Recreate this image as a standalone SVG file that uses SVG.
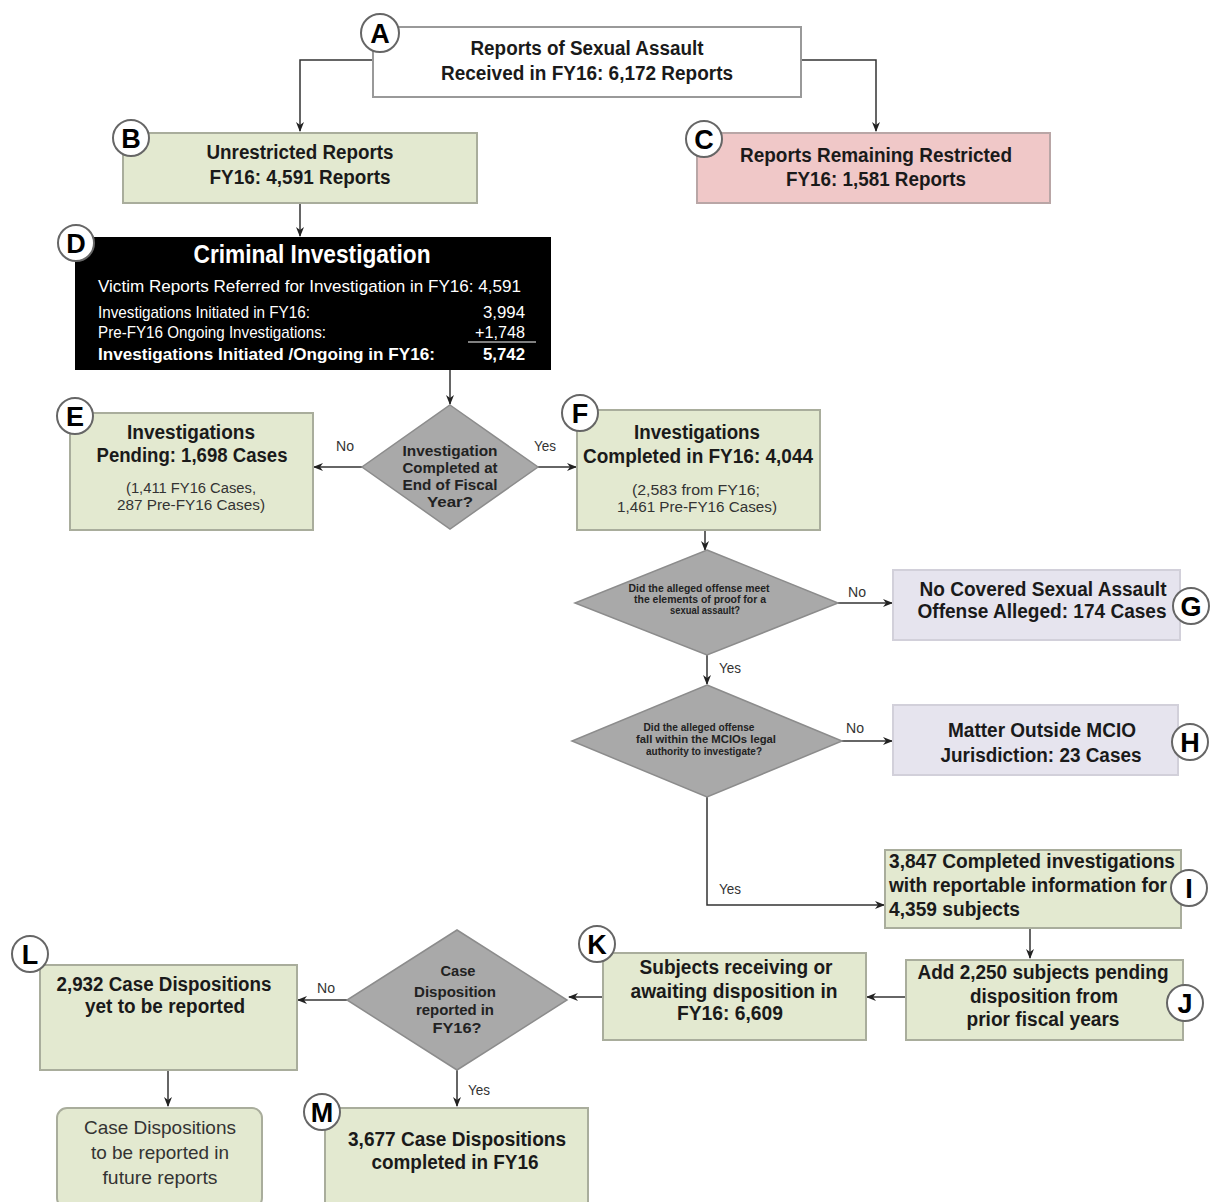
<svg xmlns="http://www.w3.org/2000/svg" width="1212" height="1202" viewBox="0 0 1212 1202">
<defs>
<marker id="ah" markerWidth="10" markerHeight="10" refX="9" refY="5" orient="auto" markerUnits="userSpaceOnUse">
<path d="M0,1 L10,5 L0,9 L3,5 Z" fill="#222"/>
</marker>
</defs>
<style>
text{font-family:"Liberation Sans Narrow","Liberation Sans",Arial,sans-serif;fill:#1a1a1a;text-anchor:middle}
.b{font-weight:bold;font-size:20px}
.s{font-size:14px;fill:#333}
.g{fill:#e3e9d0;stroke:#a9ad9c;stroke-width:2}
.p{fill:#f0c8c8;stroke:#b9a6a6;stroke-width:2}
.v{fill:#e6e4ee;stroke:#d2d0da;stroke-width:2}
.w{fill:#fff;stroke:#999;stroke-width:2}
.d{fill:#a9a9a9;stroke:#8c8c8c;stroke-width:1.5}
.c{fill:#fff;stroke:#666;stroke-width:2}
.l{font-weight:bold;font-size:27px;fill:#000}
.q{font-weight:bold;font-size:15px;fill:#222}
.t{font-weight:bold;font-size:10px;fill:#222}
.y{font-size:14px;fill:#333}
.k text{fill:#fff;text-anchor:start}
.cn{fill:none;stroke:#333;stroke-width:1.5;marker-end:url(#ah)}
</style>
<rect width="1212" height="1202" fill="#fff"/>

<g id="connectors">
<path class="cn" d="M373,60 H300 V131"/>
<path class="cn" d="M801,60 H876 V131"/>
<path class="cn" d="M300,203 V236"/>
<path class="cn" d="M450,370 V404"/>
<path class="cn" d="M362,467 H314"/>
<path class="cn" d="M538,467 H576"/>
<path class="cn" d="M705,530 V550"/>
<path class="cn" d="M838,603 H892"/>
<path class="cn" d="M707,655 V684"/>
<path class="cn" d="M842,741 H892"/>
<path class="cn" d="M707,797 V905 H884"/>
<path class="cn" d="M1030,928 V958"/>
<path class="cn" d="M906,997 H867"/>
<path class="cn" d="M603,997 H569"/>
<path class="cn" d="M347,1000 H298"/>
<path class="cn" d="M168,1070 V1106"/>
<path class="cn" d="M457,1070 V1106"/>
<text class="y" x="345" y="451" textLength="18" lengthAdjust="spacingAndGlyphs">No</text>
<text class="y" x="545" y="451" textLength="22" lengthAdjust="spacingAndGlyphs">Yes</text>
<text class="y" x="857" y="597" textLength="18" lengthAdjust="spacingAndGlyphs">No</text>
<text class="y" x="730" y="673" textLength="22" lengthAdjust="spacingAndGlyphs">Yes</text>
<text class="y" x="855" y="733" textLength="18" lengthAdjust="spacingAndGlyphs">No</text>
<text class="y" x="730" y="894" textLength="22" lengthAdjust="spacingAndGlyphs">Yes</text>
<text class="y" x="326" y="993" textLength="18" lengthAdjust="spacingAndGlyphs">No</text>
<text class="y" x="479" y="1095" textLength="22" lengthAdjust="spacingAndGlyphs">Yes</text>
</g>

<g id="A">
<rect class="w" x="373" y="27" width="428" height="70"/>
<text class="b" x="587" y="55" textLength="233" lengthAdjust="spacingAndGlyphs">Reports of Sexual Assault</text>
<text class="b" x="587" y="80" textLength="292" lengthAdjust="spacingAndGlyphs">Received in FY16: 6,172 Reports</text>
<circle class="c" cx="380" cy="33" r="19"/>
<text class="l" x="380" y="43">A</text>
</g>

<g id="B">
<rect class="g" x="123" y="133" width="354" height="70"/>
<text class="b" x="300" y="159" textLength="187" lengthAdjust="spacingAndGlyphs">Unrestricted Reports</text>
<text class="b" x="300" y="184" textLength="181" lengthAdjust="spacingAndGlyphs">FY16: 4,591 Reports</text>
<circle class="c" cx="131" cy="138" r="18"/>
<text class="l" x="131" y="148">B</text>
</g>

<g id="C">
<rect class="p" x="697" y="133" width="353" height="70"/>
<text class="b" x="876" y="162" textLength="272" lengthAdjust="spacingAndGlyphs">Reports Remaining Restricted</text>
<text class="b" x="876" y="186" textLength="180" lengthAdjust="spacingAndGlyphs">FY16: 1,581 Reports</text>
<circle class="c" cx="704" cy="139" r="18"/>
<text class="l" x="704" y="149">C</text>
</g>

<g id="D" class="k">
<rect x="75" y="237" width="476" height="133" fill="#000"/>
<text x="312" y="263" style="text-anchor:middle;font-weight:bold;font-size:26px" textLength="237" lengthAdjust="spacingAndGlyphs">Criminal Investigation</text>
<text x="98" y="292" style="font-size:17px" textLength="423" lengthAdjust="spacingAndGlyphs">Victim Reports Referred for Investigation in FY16: 4,591</text>
<text x="98" y="318" style="font-size:17px" textLength="212" lengthAdjust="spacingAndGlyphs">Investigations Initiated in FY16:</text>
<text x="525" y="318" style="font-size:17px;text-anchor:end" textLength="42" lengthAdjust="spacingAndGlyphs">3,994</text>
<text x="98" y="338" style="font-size:17px" textLength="228" lengthAdjust="spacingAndGlyphs">Pre-FY16 Ongoing Investigations:</text>
<text x="525" y="338" style="font-size:17px;text-anchor:end" textLength="50" lengthAdjust="spacingAndGlyphs">+1,748</text>
<line x1="468" y1="342" x2="536" y2="342" stroke="#fff" stroke-width="1.2"/>
<text x="98" y="360" style="font-size:17px;font-weight:bold" textLength="337" lengthAdjust="spacingAndGlyphs">Investigations Initiated /Ongoing in FY16:</text>
<text x="525" y="360" style="font-size:17px;font-weight:bold;text-anchor:end" textLength="42" lengthAdjust="spacingAndGlyphs">5,742</text>
<circle class="c" cx="76" cy="243" r="18" style="fill:#fff"/>
<text x="76" y="253" style="text-anchor:middle;font-weight:bold;font-size:27px;fill:#000">D</text>
</g>

<g id="Q1">
<polygon class="d" points="450,405 538,467 450,529 362,467"/>
<text class="q" x="450" y="456" textLength="95" lengthAdjust="spacingAndGlyphs">Investigation</text>
<text class="q" x="450" y="473" textLength="95" lengthAdjust="spacingAndGlyphs">Completed at</text>
<text class="q" x="450" y="490" textLength="95" lengthAdjust="spacingAndGlyphs">End of Fiscal</text>
<text class="q" x="450" y="507" textLength="46" lengthAdjust="spacingAndGlyphs">Year?</text>
</g>

<g id="E">
<rect class="g" x="70" y="413" width="243" height="117"/>
<text class="b" x="191" y="439" textLength="128" lengthAdjust="spacingAndGlyphs">Investigations</text>
<text class="b" x="192" y="462" textLength="191" lengthAdjust="spacingAndGlyphs">Pending: 1,698 Cases</text>
<text class="s" x="191" y="493" textLength="130" lengthAdjust="spacingAndGlyphs">(1,411 FY16 Cases,</text>
<text class="s" x="191" y="510" textLength="148" lengthAdjust="spacingAndGlyphs">287 Pre-FY16 Cases)</text>
<circle class="c" cx="75" cy="416" r="18"/>
<text class="l" x="75" y="426">E</text>
</g>

<g id="F">
<rect class="g" x="577" y="410" width="243" height="120"/>
<text class="b" x="697" y="439" textLength="126" lengthAdjust="spacingAndGlyphs">Investigations</text>
<text class="b" x="698" y="463" textLength="230" lengthAdjust="spacingAndGlyphs">Completed in FY16: 4,044</text>
<text class="s" x="696" y="495" textLength="128" lengthAdjust="spacingAndGlyphs">(2,583 from FY16;</text>
<text class="s" x="697" y="512" textLength="160" lengthAdjust="spacingAndGlyphs">1,461 Pre-FY16 Cases)</text>
<circle class="c" cx="580" cy="413" r="18"/>
<text class="l" x="580" y="423">F</text>
</g>

<g id="Q2">
<polygon class="d" points="707,550 838,603 707,655 575,603"/>
<text class="t" x="699" y="592" textLength="141" lengthAdjust="spacingAndGlyphs">Did the alleged offense meet</text>
<text class="t" x="700" y="603" textLength="132" lengthAdjust="spacingAndGlyphs">the elements of proof for a</text>
<text class="t" x="705" y="614" textLength="70" lengthAdjust="spacingAndGlyphs">sexual assault?</text>
</g>

<g id="G">
<rect class="v" x="893" y="570" width="287" height="70"/>
<text class="b" x="1043" y="596" textLength="247" lengthAdjust="spacingAndGlyphs">No Covered Sexual Assault</text>
<text class="b" x="1042" y="618" textLength="249" lengthAdjust="spacingAndGlyphs">Offense Alleged: 174 Cases</text>
<circle class="c" cx="1191" cy="606" r="18"/>
<text class="l" x="1191" y="616">G</text>
</g>

<g id="Q3">
<polygon class="d" points="707,685 842,741 707,797 572,741"/>
<text class="t" x="699" y="731" textLength="111" lengthAdjust="spacingAndGlyphs">Did the alleged offense</text>
<text class="t" x="706" y="743" textLength="140" lengthAdjust="spacingAndGlyphs">fall within the MCIOs legal</text>
<text class="t" x="704" y="755" textLength="116" lengthAdjust="spacingAndGlyphs">authority to investigate?</text>
</g>

<g id="H">
<rect class="v" x="893" y="705" width="285" height="70"/>
<text class="b" x="1042" y="737" textLength="188" lengthAdjust="spacingAndGlyphs">Matter Outside MCIO</text>
<text class="b" x="1041" y="762" textLength="201" lengthAdjust="spacingAndGlyphs">Jurisdiction: 23 Cases</text>
<circle class="c" cx="1190" cy="742" r="18"/>
<text class="l" x="1190" y="752">H</text>
</g>

<g id="I">
<rect class="g" x="885" y="850" width="296" height="78"/>
<text class="b" x="889" y="868" style="text-anchor:start" textLength="286" lengthAdjust="spacingAndGlyphs">3,847 Completed investigations</text>
<text class="b" x="889" y="892" style="text-anchor:start" textLength="278" lengthAdjust="spacingAndGlyphs">with reportable information for</text>
<text class="b" x="889" y="916" style="text-anchor:start" textLength="131" lengthAdjust="spacingAndGlyphs">4,359 subjects</text>
<circle class="c" cx="1189" cy="888" r="18"/>
<text class="l" x="1189" y="898">I</text>
</g>

<g id="J">
<rect class="g" x="906" y="960" width="277" height="80"/>
<text class="b" x="1043" y="979" textLength="251" lengthAdjust="spacingAndGlyphs">Add 2,250 subjects pending</text>
<text class="b" x="1044" y="1003" textLength="148" lengthAdjust="spacingAndGlyphs">disposition from</text>
<text class="b" x="1043" y="1026" textLength="153" lengthAdjust="spacingAndGlyphs">prior fiscal years</text>
<circle class="c" cx="1185" cy="1003" r="18"/>
<text class="l" x="1185" y="1013">J</text>
</g>

<g id="K">
<rect class="g" x="603" y="953" width="263" height="87"/>
<text class="b" x="736" y="974" textLength="193" lengthAdjust="spacingAndGlyphs">Subjects receiving or</text>
<text class="b" x="734" y="998" textLength="207" lengthAdjust="spacingAndGlyphs">awaiting disposition in</text>
<text class="b" x="730" y="1020" textLength="106" lengthAdjust="spacingAndGlyphs">FY16: 6,609</text>
<circle class="c" cx="597" cy="944" r="18"/>
<text class="l" x="597" y="954">K</text>
</g>

<g id="Q4">
<polygon class="d" points="457,930 567,1000 457,1070 347,1000"/>
<text class="q" x="458" y="976" textLength="35" lengthAdjust="spacingAndGlyphs">Case</text>
<text class="q" x="455" y="997" textLength="82" lengthAdjust="spacingAndGlyphs">Disposition</text>
<text class="q" x="455" y="1015" textLength="78" lengthAdjust="spacingAndGlyphs">reported in</text>
<text class="q" x="457" y="1033" textLength="49" lengthAdjust="spacingAndGlyphs">FY16?</text>
</g>

<g id="L">
<rect class="g" x="40" y="965" width="257" height="105"/>
<text class="b" x="164" y="991" textLength="215" lengthAdjust="spacingAndGlyphs">2,932 Case Dispositions</text>
<text class="b" x="165" y="1013" textLength="160" lengthAdjust="spacingAndGlyphs">yet to be reported</text>
<circle class="c" cx="30" cy="954" r="18"/>
<text class="l" x="30" y="964">L</text>
</g>

<g id="N">
<rect class="g" x="57" y="1108" width="205" height="100" rx="10"/>
<text x="160" y="1134" style="font-size:19px;fill:#333" textLength="152" lengthAdjust="spacingAndGlyphs">Case Dispositions</text>
<text x="160" y="1159" style="font-size:19px;fill:#333" textLength="138" lengthAdjust="spacingAndGlyphs">to be reported in</text>
<text x="160" y="1184" style="font-size:19px;fill:#333" textLength="115" lengthAdjust="spacingAndGlyphs">future reports</text>
</g>

<g id="M">
<rect class="g" x="325" y="1108" width="263" height="100"/>
<text class="b" x="457" y="1146" textLength="218" lengthAdjust="spacingAndGlyphs">3,677 Case Dispositions</text>
<text class="b" x="455" y="1169" textLength="167" lengthAdjust="spacingAndGlyphs">completed in FY16</text>
<circle class="c" cx="322" cy="1112" r="18"/>
<text class="l" x="322" y="1122">M</text>
</g>
</svg>
